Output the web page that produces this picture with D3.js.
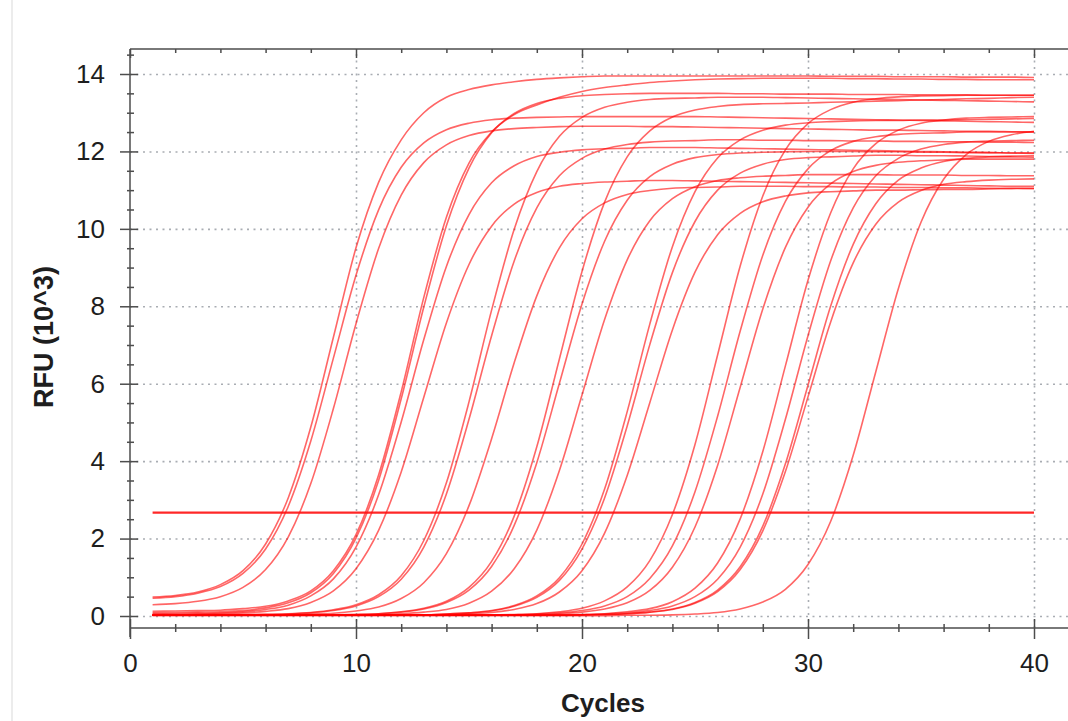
<!DOCTYPE html>
<html>
<head>
<meta charset="utf-8">
<script src="https://cdn.jsdelivr.net/npm/d3@7"></script>
<style>
body { margin: 0; background: #fff; }
svg { display: block; font-family: "Liberation Sans", Arial, sans-serif; }
</style>
</head>
<body>
<svg id="chart" width="1068" height="721"></svg>
<script>

// cycles and axis ticks
var cycles = [1,2,3,4,5,6,7,8,9,10,11,12,13,14,15,16,17,18,19,20,21,22,23,24,25,26,27,28,29,30,31,32,33,34,35,36,37,38,39,40];
var xMajor = [0,10,20,30,40];
var xMinor = [2,4,6,8,12,14,16,18,22,24,26,28,32,34,36,38];
var yMajor = [0,2,4,6,8,10,12,14];
var yMinor = [0.5,1,1.5,2.5,3,3.5,4.5,5,5.5,6.5,7,7.5,8.5,9,9.5,10.5,11,11.5,12.5,13,13.5,14.5];
var threshold = 2.67;

// RFU (10^3) per well, cycles 1..40
var rfu01 = [0.49,0.53,0.62,0.81,1.17,1.86,3.05,4.88,7.20,9.51, 11.20,12.30,13.00,13.40,13.60,13.72,13.80,13.86,13.90,13.93, 13.95,13.95,13.95,13.95,13.95,13.95,13.95,13.95,13.95,13.95, 13.94,13.94,13.94,13.93,13.93,13.93,13.92,13.92,13.92,13.91];
var rfu02 = [0.46,0.50,0.59,0.76,1.10,1.73,2.83,4.52,6.66,8.80, 10.49,11.59,12.22,12.56,12.73,12.82,12.86,12.88,12.89,12.90, 12.90,12.90,12.90,12.90,12.90,12.89,12.88,12.87,12.86,12.85, 12.84,12.83,12.82,12.81,12.80,12.79,12.78,12.77,12.76,12.75];
var rfu03 = [0.29,0.32,0.38,0.50,0.74,1.20,2.04,3.42,5.36,7.55, 9.49,10.87,11.71,12.17,12.41,12.53,12.59,12.62,12.64,12.65, 12.65,12.65,12.64,12.64,12.63,12.62,12.61,12.60,12.59,12.58, 12.57,12.56,12.55,12.55,12.54,12.53,12.52,12.52,12.51,12.50];
var rfu04 = [0.12,0.13,0.14,0.15,0.19,0.25,0.39,0.65,1.17,2.10, 3.64,5.79,8.23,10.30,11.70,12.50,12.95,13.20,13.40,13.55, 13.65,13.72,13.78,13.82,13.85,13.87,13.88,13.89,13.89,13.89, 13.89,13.88,13.88,13.87,13.87,13.86,13.86,13.85,13.85,13.85];
var rfu05 = [0.08,0.09,0.10,0.11,0.14,0.21,0.34,0.60,1.10,2.01, 3.50,5.61,7.98,10.08,11.57,12.48,12.98,13.24,13.37,13.44, 13.47,13.49,13.50,13.50,13.50,13.50,13.49,13.49,13.48,13.48, 13.48,13.47,13.47,13.47,13.46,13.46,13.46,13.45,13.45,13.45];
var rfu06 = [0.05,0.06,0.07,0.08,0.11,0.17,0.28,0.52,0.96,1.78, 3.13,5.01,7.14,9.03,10.37,11.19,11.63,11.87,11.98,12.04, 12.07,12.08,12.10,12.10,12.10,12.09,12.08,12.07,12.06,12.05, 12.04,12.03,12.02,12.01,12.00,11.99,11.98,11.97,11.96,11.95];
var rfu07 = [0.04,0.04,0.05,0.06,0.08,0.12,0.19,0.35,0.65,1.22, 2.21,3.72,5.65,7.57,9.08,10.07,10.64,10.94,11.10,11.17, 11.21,11.23,11.25,11.25,11.24,11.23,11.22,11.21,11.20,11.19, 11.18,11.17,11.16,11.15,11.14,11.13,11.12,11.11,11.10,11.10];
var rfu08 = [0.03,0.03,0.03,0.03,0.04,0.05,0.06,0.09,0.16,0.29, 0.55,1.04,1.95,3.44,5.53,7.90,9.99,11.48,12.39,12.88, 13.14,13.27,13.34,13.37,13.38,13.40,13.40,13.40,13.39,13.38, 13.37,13.36,13.35,13.34,13.33,13.32,13.31,13.30,13.29,13.28];
var rfu09 = [0.02,0.02,0.02,0.02,0.03,0.03,0.05,0.08,0.14,0.26, 0.50,0.95,1.78,3.15,5.08,7.24,9.17,10.54,11.37,11.82, 12.06,12.18,12.24,12.27,12.28,12.30,12.30,12.29,12.29,12.28, 12.28,12.27,12.27,12.26,12.26,12.25,12.25,12.24,12.24,12.23];
var rfu10 = [0.02,0.02,0.02,0.02,0.02,0.02,0.03,0.05,0.07,0.13, 0.23,0.45,0.86,1.61,2.85,4.58,6.54,8.27,9.51,10.26, 10.67,10.89,10.99,11.05,11.07,11.08,11.10,11.10,11.10,11.09, 11.09,11.08,11.08,11.07,11.07,11.06,11.06,11.05,11.05,11.04];
var rfu11 = [0.02,0.02,0.02,0.02,0.02,0.02,0.02,0.02,0.03,0.04, 0.06,0.11,0.20,0.38,0.74,1.41,2.58,4.37,6.64,8.90, 10.69,11.86,12.53,12.89,13.07,13.16,13.21,13.23,13.24,13.25, 13.27,13.28,13.30,13.31,13.33,13.34,13.36,13.37,13.39,13.40];
var rfu12 = [0.02,0.02,0.02,0.02,0.02,0.02,0.02,0.02,0.03,0.04, 0.06,0.10,0.18,0.35,0.67,1.28,2.34,3.96,6.01,8.06, 9.68,10.74,11.35,11.67,11.84,11.92,11.96,11.98,11.99,12.00, 12.00,12.00,11.99,11.99,11.98,11.98,11.97,11.97,11.96,11.96];
var rfu13 = [0.02,0.02,0.02,0.02,0.02,0.02,0.02,0.02,0.02,0.03, 0.04,0.06,0.10,0.17,0.33,0.64,1.22,2.22,3.76,5.71, 7.66,9.20,10.21,10.78,11.09,11.25,11.32,11.36,11.38,11.40, 11.40,11.40,11.40,11.39,11.39,11.39,11.38,11.38,11.37,11.37];
var rfu14 = [0.02,0.02,0.02,0.02,0.02,0.02,0.02,0.02,0.02,0.02, 0.02,0.03,0.03,0.05,0.08,0.14,0.27,0.52,0.99,1.86, 3.28,5.28,7.54,9.54,10.96,11.83,12.30,12.55,12.68,12.74, 12.77,12.79,12.80,12.80,12.81,12.81,12.82,12.83,12.84,12.85];
var rfu15 = [0.02,0.02,0.02,0.02,0.02,0.02,0.02,0.02,0.02,0.02, 0.02,0.03,0.03,0.05,0.08,0.13,0.25,0.48,0.92,1.73, 3.05,4.91,7.01,8.87,10.19,11.00,11.44,11.67,11.79,11.84, 11.86,11.88,11.90,11.90,11.89,11.89,11.88,11.87,11.86,11.85];
var rfu16 = [0.02,0.02,0.02,0.02,0.02,0.02,0.02,0.02,0.02,0.02, 0.02,0.02,0.03,0.04,0.06,0.09,0.17,0.32,0.62,1.17, 2.14,3.63,5.51,7.39,8.88,9.85,10.40,10.70,10.85,10.93, 10.96,10.98,11.00,11.00,11.01,11.02,11.02,11.03,11.04,11.05];
var rfu17 = [0.02,0.02,0.02,0.02,0.02,0.02,0.02,0.02,0.02,0.02, 0.02,0.02,0.02,0.02,0.03,0.03,0.04,0.06,0.11,0.20, 0.39,0.75,1.43,2.62,4.43,6.74,9.04,10.85,12.04,12.72, 13.08,13.27,13.36,13.41,13.43,13.44,13.45,13.45,13.45,13.45];
var rfu18 = [0.02,0.02,0.02,0.02,0.02,0.02,0.02,0.02,0.02,0.02, 0.02,0.02,0.02,0.02,0.02,0.03,0.03,0.05,0.08,0.14, 0.26,0.50,0.97,1.81,3.21,5.16,7.36,9.32,10.71,11.55, 12.02,12.26,12.38,12.44,12.47,12.48,12.50,12.50,12.50,12.50];
var rfu19 = [0.02,0.02,0.02,0.02,0.02,0.02,0.02,0.02,0.02,0.02, 0.02,0.02,0.02,0.02,0.02,0.02,0.03,0.04,0.06,0.10, 0.18,0.34,0.66,1.26,2.30,3.89,5.91,7.93,9.52,10.56, 11.16,11.48,11.64,11.72,11.76,11.78,11.80,11.80,11.80,11.80];
var rfu20 = [0.02,0.02,0.02,0.02,0.02,0.02,0.02,0.02,0.02,0.02, 0.02,0.02,0.02,0.02,0.02,0.02,0.02,0.03,0.03,0.04, 0.06,0.11,0.19,0.37,0.72,1.37,2.51,4.25,6.46,8.67, 10.41,11.55,12.20,12.55,12.73,12.81,12.86,12.88,12.89,12.90];
var rfu21 = [0.02,0.02,0.02,0.02,0.02,0.02,0.02,0.02,0.02,0.02, 0.02,0.02,0.02,0.02,0.02,0.02,0.02,0.02,0.03,0.03, 0.05,0.08,0.14,0.26,0.50,0.95,1.78,3.15,5.08,7.24, 9.17,10.54,11.37,11.82,12.06,12.18,12.24,12.27,12.28,12.29];
var rfu22 = [0.02,0.02,0.02,0.02,0.02,0.02,0.02,0.02,0.02,0.02, 0.02,0.02,0.02,0.02,0.02,0.02,0.02,0.02,0.02,0.03, 0.04,0.06,0.10,0.17,0.33,0.63,1.20,2.20,3.73,5.66, 7.59,9.12,10.12,10.69,10.99,11.15,11.22,11.26,11.28,11.29];
var rfu23 = [0.02,0.02,0.02,0.02,0.02,0.02,0.02,0.02,0.02,0.02, 0.02,0.02,0.02,0.02,0.02,0.02,0.02,0.02,0.02,0.03, 0.04,0.06,0.10,0.18,0.35,0.67,1.27,2.32,3.93,5.96, 8.00,9.60,10.65,11.26,11.57,11.74,11.82,11.86,11.88,11.89];
var rfu24 = [0.01,0.01,0.01,0.01,0.01,0.01,0.01,0.01,0.01,0.01, 0.01,0.01,0.01,0.01,0.01,0.01,0.01,0.01,0.01,0.01, 0.01,0.02,0.02,0.03,0.05,0.09,0.18,0.36,0.69,1.33, 2.44,4.15,6.31,8.46,10.17,11.28,11.92,12.26,12.43,12.52];

var curves = [rfu01,rfu02,rfu03,rfu04,rfu05,rfu06,rfu07,rfu08,rfu09,rfu10,rfu11,rfu12,
              rfu13,rfu14,rfu15,rfu16,rfu17,rfu18,rfu19,rfu20,rfu21,rfu22,rfu23,rfu24];


var svg = d3.select("#chart"),
    width = +svg.attr("width"),
    height = +svg.attr("height");

var frameTop = 49, axisY = 628;
var x = d3.scaleLinear().domain([0, 40]).range([130, 1034]);
var y = d3.scaleLinear().domain([0, 14]).range([616, 74]);
var axisColor = "#4d4d4d", gridColor = "#a9adb3", textColor = "#1e1e1e";

// faint page border on the left
svg.append("line")
  .attr("x1", 12).attr("x2", 12).attr("y1", 0).attr("y2", height)
  .attr("stroke", "#e6e6e6").attr("stroke-width", 1.5);

// dotted grid
var gridY = svg.append("g")
  .attr("transform", "translate(" + x(0) + ",0)")
  .call(d3.axisLeft(y).tickValues(yMajor).tickSize(-(width - x(0))).tickFormat(""));
var gridX = svg.append("g")
  .attr("transform", "translate(0," + axisY + ")")
  .call(d3.axisBottom(x).tickValues(xMajor.slice(1)).tickSize(-(axisY - frameTop)).tickFormat(""));
[gridY, gridX].forEach(function(g){
  g.select(".domain").remove();
  g.selectAll("line").attr("stroke", gridColor).attr("stroke-width", 1.6).attr("stroke-dasharray", "2,4.5");
});

// frame lines
svg.append("line").attr("x1", x(0)).attr("x2", width).attr("y1", frameTop).attr("y2", frameTop)
  .attr("stroke", axisColor).attr("stroke-width", 1.5);
svg.append("line").attr("x1", x(0)).attr("x2", width).attr("y1", axisY).attr("y2", axisY)
  .attr("stroke", axisColor).attr("stroke-width", 1.5);
svg.append("line").attr("x1", x(0)).attr("x2", x(0)).attr("y1", frameTop).attr("y2", axisY + 9)
  .attr("stroke", axisColor).attr("stroke-width", 1.5);

// y axis ticks
var yMin = svg.append("g").attr("transform", "translate(" + x(0) + ",0)")
  .call(d3.axisLeft(y).tickValues(yMinor).tickSize(3).tickFormat(""));
yMin.selectAll(".tick line").attr("x1", 4).attr("x2", -3);
var yAx = svg.append("g").attr("transform", "translate(" + x(0) + ",0)")
  .call(d3.axisLeft(y).tickValues(yMajor).tickSize(10).tickPadding(15));
yAx.selectAll(".tick line").attr("x1", 8).attr("x2", -10);

// x axis ticks (bottom)
var xMin = svg.append("g").attr("transform", "translate(0," + axisY + ")")
  .call(d3.axisBottom(x).tickValues(xMinor).tickSize(4).tickFormat(""));
xMin.selectAll(".tick line").attr("y1", -4).attr("y2", 4);
var xAx = svg.append("g").attr("transform", "translate(0," + axisY + ")")
  .call(d3.axisBottom(x).tickValues(xMajor).tickSize(11).tickPadding(15));
xAx.selectAll(".tick line").attr("y1", -9).attr("y2", 11);

// ticks on the top frame, pointing in
var topMin = svg.append("g").attr("transform", "translate(0," + frameTop + ")")
  .call(d3.axisBottom(x).tickValues(xMinor).tickSize(4).tickFormat(""));
var topMaj = svg.append("g").attr("transform", "translate(0," + frameTop + ")")
  .call(d3.axisBottom(x).tickValues(xMajor).tickSize(9).tickFormat(""));

[yMin, yAx, xMin, xAx, topMin, topMaj].forEach(function(g){
  g.select(".domain").remove();
  g.selectAll(".tick line").attr("stroke", axisColor).attr("stroke-width", 1.5);
  g.selectAll("text").attr("fill", textColor).style("font-size", "26px")
    .style("font-family", "'Liberation Sans', Arial, sans-serif");
});

// amplification curves
var line = d3.line()
  .x(function(d, i) { return x(cycles[i]); })
  .y(function(d) { return y(d); })
  .curve(d3.curveMonotoneX);

svg.append("g")
  .selectAll("path")
  .data(curves)
  .enter().append("path")
  .attr("d", line)
  .attr("fill", "none")
  .attr("stroke", "#ff0000")
  .attr("stroke-opacity", 0.6)
  .attr("stroke-width", 1.6);

// threshold
svg.append("line")
  .attr("x1", x(cycles[0])).attr("x2", x(cycles[cycles.length - 1]))
  .attr("y1", y(threshold)).attr("y2", y(threshold))
  .attr("stroke", "#ff1010").attr("stroke-opacity", 0.9).attr("stroke-width", 2.2);

// axis titles
svg.append("text")
  .attr("x", 603).attr("y", 712)
  .attr("text-anchor", "middle")
  .attr("fill", textColor)
  .style("font-size", "26px").style("font-weight", "bold")
  .text("Cycles");

svg.append("text")
  .attr("transform", "translate(53,337) rotate(-90)")
  .attr("text-anchor", "middle")
  .attr("fill", textColor)
  .style("font-size", "27px").style("font-weight", "bold")
  .text("RFU (10^3)");

</script>
</body>
</html>
